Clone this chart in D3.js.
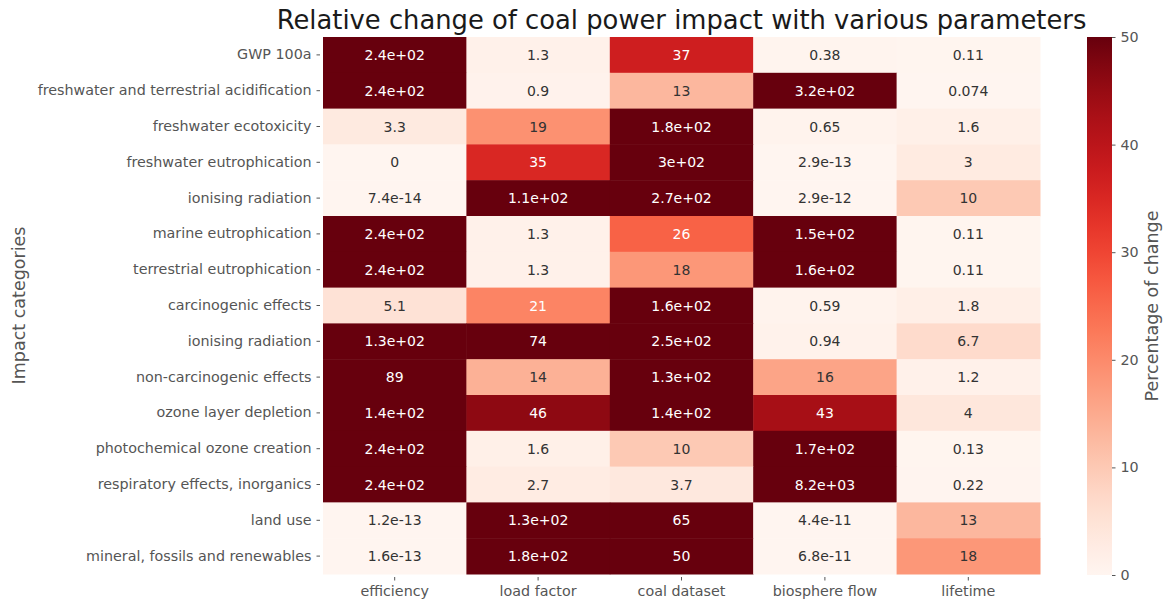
<!DOCTYPE html>
<html>
<head>
<meta charset="utf-8">
<script src="https://cdn.jsdelivr.net/npm/d3@7"></script>
<style>
  html, body { margin: 0; padding: 0; background: #fff; }
  svg { display: block; font-family: "DejaVu Sans", sans-serif; }
</style>
</head>
<body>
<svg id="chart" width="1171" height="603"></svg>
<script>
// Impact categories (rows) and varied parameters (columns)
const categories = [
  "GWP 100a",
  "freshwater and terrestrial acidification",
  "freshwater ecotoxicity",
  "freshwater eutrophication",
  "ionising radiation",
  "marine eutrophication",
  "terrestrial eutrophication",
  "carcinogenic effects",
  "ionising radiation",
  "non-carcinogenic effects",
  "ozone layer depletion",
  "photochemical ozone creation",
  "respiratory effects, inorganics",
  "land use",
  "mineral, fossils and renewables"
];
const parameters = ["efficiency", "load factor", "coal dataset", "biosphere flow", "lifetime"];

// Percentage of change, one array per parameter (in category order)
const efficiency    = [240, 240, 3.3, 0, 7.4e-14, 240, 240, 5.1, 130, 89, 140, 240, 240, 1.2e-13, 1.6e-13];
const loadFactor    = [1.3, 0.9, 19, 35, 110, 1.3, 1.3, 21, 74, 14, 46, 1.6, 2.7, 130, 180];
const coalDataset   = [37, 13, 180, 300, 270, 26, 18, 160, 250, 130, 140, 10, 3.7, 65, 50];
const biosphereFlow = [0.38, 320, 0.65, 2.9e-13, 2.9e-12, 150, 160, 0.59, 0.94, 16, 43, 170, 8200, 4.4e-11, 6.8e-11];
const lifetime      = [0.11, 0.074, 1.6, 3, 10, 0.11, 0.11, 1.8, 6.7, 1.2, 4, 0.13, 0.22, 13, 18];

const colorTicks = [0, 10, 20, 30, 40, 50];

const seriesByParam = [efficiency, loadFactor, coalDataset, biosphereFlow, lifetime];

const cells = [];
categories.forEach((c, i) => {
  parameters.forEach((p, j) => {
    cells.push({ row: i, col: j, value: seriesByParam[j][i] });
  });
});

// %.2g style number formatting
function fmt2g(v) {
  if (v === 0) return "0";
  const e = v.toExponential(1);
  const exp = parseInt(e.split("e")[1], 10);
  if (exp < -4 || exp >= 2) {
    let [m, ex] = e.split("e");
    m = m.replace(/\.0$/, "");
    const sign = ex[0];
    let digits = ex.slice(1);
    if (digits.length < 2) digits = "0" + digits;
    return m + "e" + sign + digits;
  }
  return Number(v.toPrecision(2)).toString();
}

const svg = d3.select("#chart");
const textGray = "#555555";
const tickFont = 14.3;

const plotLeft = 323, plotRight = 1040, plotTop = 37, plotBottom = 574;

const x = d3.scaleBand().domain(d3.range(parameters.length)).range([plotLeft, plotRight]);
const y = d3.scaleBand().domain(d3.range(categories.length)).range([plotTop, plotBottom]);
const color = d3.scaleSequential(d3.interpolateReds).domain([0, 50]).clamp(true);

// heatmap cells
svg.append("g").selectAll("rect")
  .data(cells).join("rect")
  .attr("x", d => x(d.col))
  .attr("y", d => y(d.row))
  .attr("width", x.bandwidth() + 0.5)
  .attr("height", y.bandwidth() + 0.5)
  .attr("fill", d => color(d.value));

function luminance(c) {
  const rgb = d3.rgb(c);
  const f = v => { v /= 255; return v <= 0.03928 ? v / 12.92 : Math.pow((v + 0.055) / 1.055, 2.4); };
  return 0.2126 * f(rgb.r) + 0.7152 * f(rgb.g) + 0.0722 * f(rgb.b);
}

// cell annotations
svg.append("g").selectAll("text")
  .data(cells).join("text")
  .attr("x", d => x(d.col) + x.bandwidth() / 2)
  .attr("y", d => y(d.row) + y.bandwidth() / 2)
  .attr("text-anchor", "middle")
  .attr("dominant-baseline", "central")
  .attr("font-size", 14)
  .attr("fill", d => luminance(color(d.value)) > 0.408 ? "#333333" : "#ffffff")
  .text(d => fmt2g(d.value));

// y axis
const yAxis = d3.axisLeft(y).tickFormat(i => categories[i]).tickSize(3.5).tickPadding(5);
const gy = svg.append("g").attr("transform", `translate(${plotLeft - 3},0)`).call(yAxis);
gy.select(".domain").remove();
gy.selectAll(".tick line").attr("stroke", textGray);
gy.selectAll(".tick text").attr("fill", textGray).attr("font-size", tickFont).attr("font-family", "DejaVu Sans");

// x axis
const xAxis = d3.axisBottom(x).tickFormat(i => parameters[i]).tickSize(3.5).tickPadding(5);
const gx = svg.append("g").attr("transform", `translate(0,${plotBottom + 3})`).call(xAxis);
gx.select(".domain").remove();
gx.selectAll(".tick line").attr("stroke", textGray);
gx.selectAll(".tick text").attr("fill", textGray).attr("font-size", tickFont).attr("font-family", "DejaVu Sans");

// axis title
svg.append("text")
  .attr("transform", `translate(25,${(plotTop + plotBottom) / 2}) rotate(-90)`)
  .attr("text-anchor", "middle")
  .attr("font-size", 17.5)
  .attr("fill", textGray)
  .text("Impact categories");

// chart title
svg.append("text")
  .attr("x", (plotLeft + plotRight) / 2)
  .attr("y", 29)
  .attr("text-anchor", "middle")
  .attr("font-size", 25.8)
  .attr("fill", "#1a1a1a")
  .text("Relative change of coal power impact with various parameters");

// colour bar
const cbX = 1087, cbW = 25, cbTop = 37, cbBottom = 575;
const defs = svg.append("defs");
const grad = defs.append("linearGradient").attr("id", "cbgrad")
  .attr("x1", 0).attr("y1", 1).attr("x2", 0).attr("y2", 0);
d3.range(0, 1.0001, 0.05).forEach(t => {
  grad.append("stop").attr("offset", t).attr("stop-color", d3.interpolateReds(t));
});
svg.append("rect")
  .attr("x", cbX).attr("y", cbTop).attr("width", cbW).attr("height", cbBottom - cbTop)
  .attr("fill", "url(#cbgrad)");

const cbScale = d3.scaleLinear().domain([0, 50]).range([cbBottom, cbTop]);
const cbAxis = d3.axisRight(cbScale).tickValues(colorTicks).tickSize(3.5).tickPadding(5);
const gc = svg.append("g").attr("transform", `translate(${cbX + cbW},0)`).call(cbAxis);
gc.select(".domain").remove();
gc.selectAll(".tick line").attr("stroke", textGray);
gc.selectAll(".tick text").attr("fill", textGray).attr("font-size", tickFont).attr("font-family", "DejaVu Sans");

svg.append("text")
  .attr("transform", `translate(1158,${(cbTop + cbBottom) / 2}) rotate(-90)`)
  .attr("text-anchor", "middle")
  .attr("font-size", 17.5)
  .attr("fill", textGray)
  .text("Percentage of change");
</script>
</body>
</html>
